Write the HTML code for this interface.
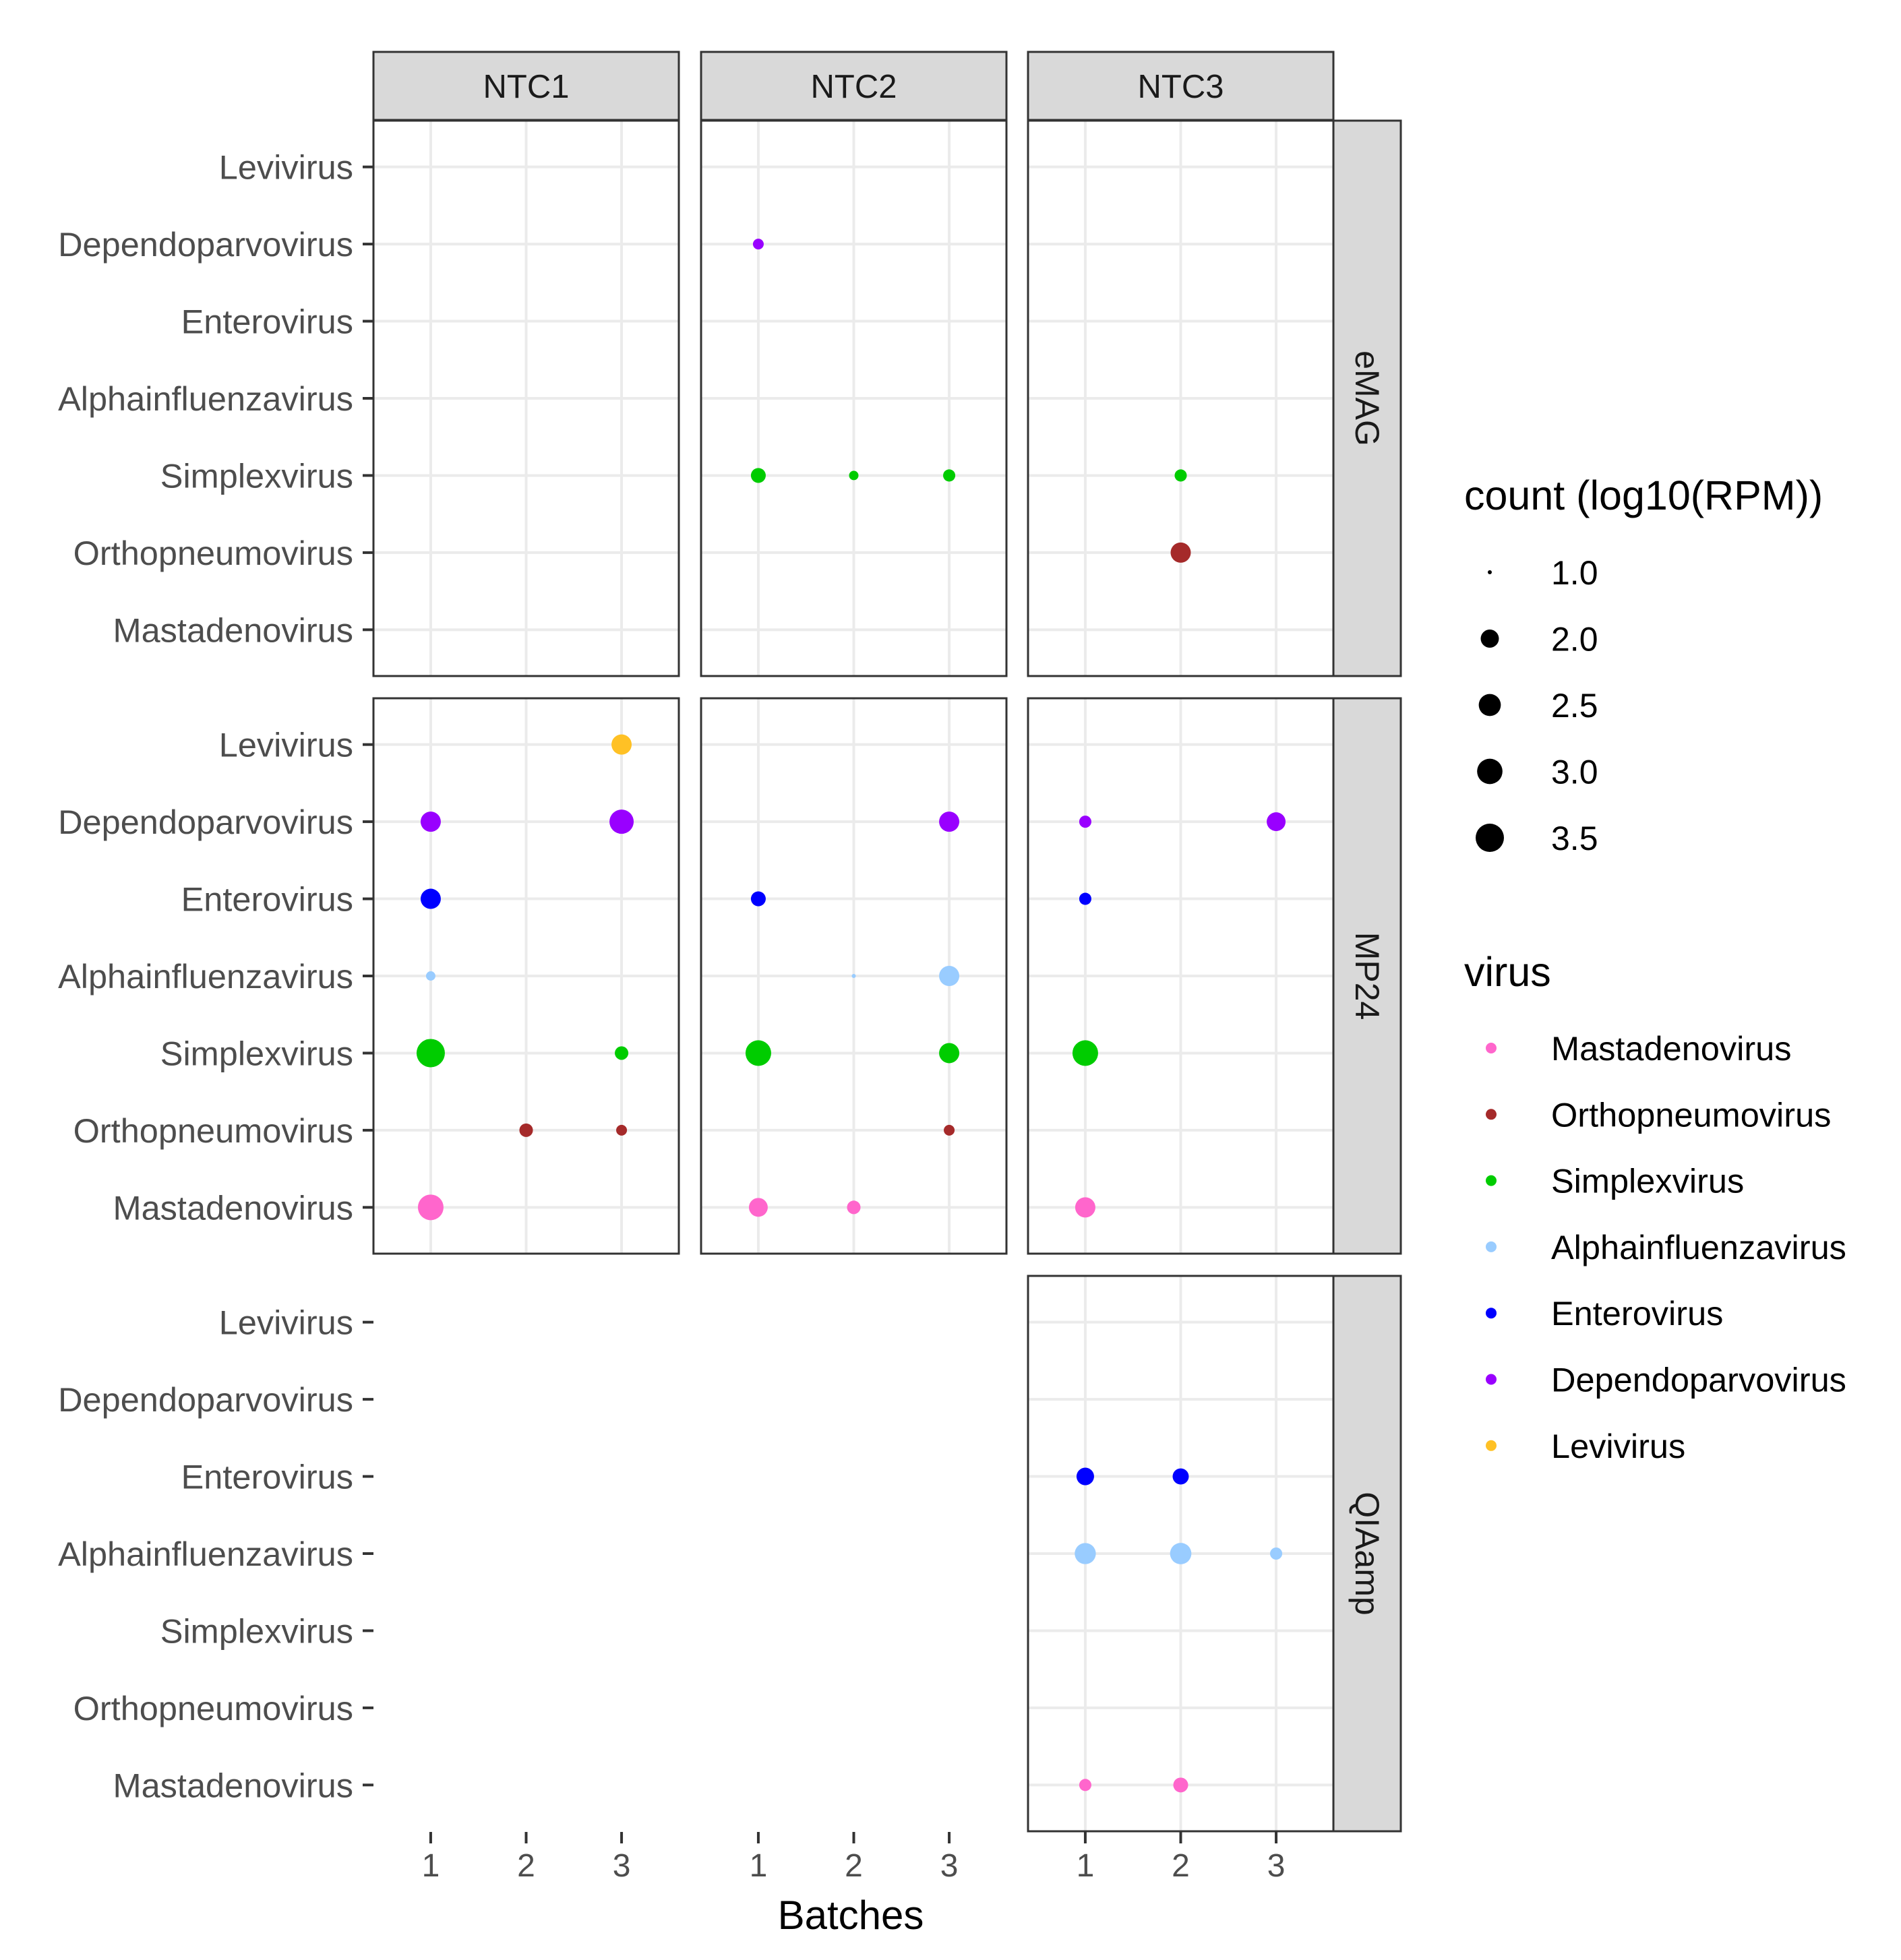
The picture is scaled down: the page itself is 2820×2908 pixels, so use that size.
<!DOCTYPE html>
<html><head><meta charset="utf-8"><style>
html,body{margin:0;padding:0;background:#fff}
svg{display:block;font-family:"Liberation Sans",Arial,sans-serif}
</style></head><body>
<svg id="chart" width="2820" height="2908" viewBox="0 0 2820 2908"></svg>
<script>
// ---- data ----
const viruses = ["Mastadenovirus","Orthopneumovirus","Simplexvirus","Alphainfluenzavirus","Enterovirus","Dependoparvovirus","Levivirus"];
const colors = ["#FF66CC","#A52A2A","#00CC00","#99CCFF","#0000FF","#9900FF","#FFC125"];
const ntcs = ["NTC1","NTC2","NTC3"];
const methods = ["eMAG","MP24","QIAamp"];
const batchTicks = ["1","2","3"];
const sizeBreaks = [1.0,2.0,2.5,3.0,3.5];
const sizeLabels = ["1.0","2.0","2.5","3.0","3.5"];
// panels that exist: [method index, ntc index]
const panelsPresent = [[0,0],[0,1],[0,2],[1,0],[1,1],[1,2],[2,2]];
// points: method, ntc, batch, virus, value
const ptMethod = [0,0,0,0,0,0, 1,1,1,1,1,1,1,1,1,1, 1,1,1,1,1,1,1,1,1, 1,1,1,1,1, 2,2,2,2,2,2,2];
const ptNtc    = [1,1,1,1,2,2, 0,0,0,0,0,0,0,0,0,0, 1,1,1,1,1,1,1,1,1, 2,2,2,2,2, 2,2,2,2,2,2,2];
const ptBatch  = [1,1,2,3,2,2, 3,1,3,1,1,1,3,2,3,1, 3,1,2,3,1,3,3,1,2, 1,3,1,1,1, 1,2,1,2,3,1,2];
const ptVirus  = ["Dependoparvovirus","Simplexvirus","Simplexvirus","Simplexvirus","Simplexvirus","Orthopneumovirus",
 "Levivirus","Dependoparvovirus","Dependoparvovirus","Enterovirus","Alphainfluenzavirus","Simplexvirus","Simplexvirus","Orthopneumovirus","Orthopneumovirus","Mastadenovirus",
 "Dependoparvovirus","Enterovirus","Alphainfluenzavirus","Alphainfluenzavirus","Simplexvirus","Simplexvirus","Orthopneumovirus","Mastadenovirus","Mastadenovirus",
 "Dependoparvovirus","Dependoparvovirus","Enterovirus","Simplexvirus","Mastadenovirus",
 "Enterovirus","Enterovirus","Alphainfluenzavirus","Alphainfluenzavirus","Alphainfluenzavirus","Mastadenovirus","Mastadenovirus"];
const ptValue  = [1.32,1.65,1.23,1.42,1.42,2.25,
 2.25,2.25,2.82,2.25,1.23,3.5,1.53,1.53,1.32,3.04,
 2.25,1.65,1.0,2.25,3.04,2.25,1.32,2.08,1.53,
 1.42,2.08,1.42,3.04,2.25,
 1.93,1.78,2.37,2.4,1.42,1.42,1.65];

// ---- layout ----
const NS="http://www.w3.org/2000/svg";
const svg=document.getElementById('chart');
const colLeft=[554,1040,1525], panelW=453;
const rowTop=[179,1036,1893], panelH=824;
function mk(tag,attrs,parent){const e=document.createElementNS(NS,tag);for(const k in attrs)e.setAttribute(k,attrs[k]);(parent||svg).appendChild(e);return e;}
function xScale(col,b){return colLeft[col]+(b-0.4)/3.2*panelW;}
function yScale(row,vi){return rowTop[row]+panelH-(vi+1-0.4)/7.2*panelH;}
function rad(v){return Math.sqrt(Math.max(4,172.8*v-163.8));}

panelsPresent.forEach(([m,n])=>{
  const g=mk('g',{});
  
  
  mk('rect',{x:colLeft[n],y:rowTop[m],width:panelW,height:panelH,fill:'#fff'},g);
  batchTicks.forEach((t,i)=>{const x=xScale(n,i+1);const l=mk('line',{x1:x,x2:x,y1:rowTop[m],y2:rowTop[m]+panelH,stroke:'#ebebeb','stroke-width':4},g);
    });
  viruses.forEach((v,i)=>{const y=yScale(m,i);const l=mk('line',{x1:colLeft[n],x2:colLeft[n]+panelW,y1:y,y2:y,stroke:'#ebebeb','stroke-width':4},g);
    });
});
for(let i=0;i<ptValue.length;i++){
  const m=ptMethod[i],n=ptNtc[i];const vi=viruses.indexOf(ptVirus[i]);
  const c=mk('circle',{cx:xScale(n,ptBatch[i]),cy:yScale(m,vi),r:rad(ptValue[i]),fill:colors[vi]});
  
  
}
panelsPresent.forEach(([m,n])=>{
  const b=mk('rect',{x:colLeft[n],y:rowTop[m],width:panelW,height:panelH,fill:'none',stroke:'#333','stroke-width':3});
  
});
ntcs.forEach((t,n)=>{
  const r=mk('rect',{x:colLeft[n],y:77,width:panelW,height:101,fill:'#d9d9d9',stroke:'#333','stroke-width':3});
  
  const tx=mk('text',{x:colLeft[n]+panelW/2,y:145,'text-anchor':'middle','font-size':49,fill:'#1a1a1a'});tx.textContent=t;
  
});
methods.forEach((t,m)=>{
  const r=mk('rect',{x:1978,y:rowTop[m],width:100,height:panelH,fill:'#d9d9d9',stroke:'#333','stroke-width':3});
  
  const cy=rowTop[m]+panelH/2;
  const tx=mk('text',{x:2028,y:cy,'text-anchor':'middle','dominant-baseline':'central','font-size':50,fill:'#1a1a1a',transform:`rotate(90 2028 ${cy})`});tx.textContent=t;
  
});
methods.forEach((t,m)=>{
  viruses.forEach((v,i)=>{const y=yScale(m,i);
    const tk=mk('line',{x1:538,x2:554,y1:y,y2:y,stroke:'#333','stroke-width':4});
    
    const tx=mk('text',{x:524,y:y+18,'text-anchor':'end','font-size':50.5,fill:'#4d4d4d'});tx.textContent=v;
    
  });
});
ntcs.forEach((t,n)=>{
  batchTicks.forEach((b,i)=>{const x=xScale(n,i+1);
    const tk=mk('line',{x1:x,x2:x,y1:2718,y2:2735,stroke:'#333','stroke-width':4});
    
    const tx=mk('text',{x:x,y:2784,'text-anchor':'middle','font-size':48,fill:'#4d4d4d'});tx.textContent=b;
    
  });
});
const xt=mk('text',{x:1262,y:2862,'text-anchor':'middle','font-size':60,fill:'#000'});xt.textContent='Batches';

const st=mk('text',{x:2172,y:756,'font-size':61,fill:'#000'});st.textContent='count (log10(RPM))';

sizeBreaks.forEach((v,i)=>{const y=849+i*98.5;
  const c=mk('circle',{cx:2210,cy:y,r:rad(v),fill:'#000'});
  
  const tx=mk('text',{x:2301,y:y+18,'font-size':50,fill:'#000'});tx.textContent=sizeLabels[i];
  
});
const vt=mk('text',{x:2172,y:1463,'font-size':61,fill:'#000'});vt.textContent='virus';

viruses.forEach((v,i)=>{const y=1555+i*98.3;
  const c=mk('circle',{cx:2212,cy:y,r:8,fill:colors[i]});
  
  const tx=mk('text',{x:2301,y:y+18,'font-size':50.5,fill:'#000'});tx.textContent=v;
  
});
</script>
</body></html>
